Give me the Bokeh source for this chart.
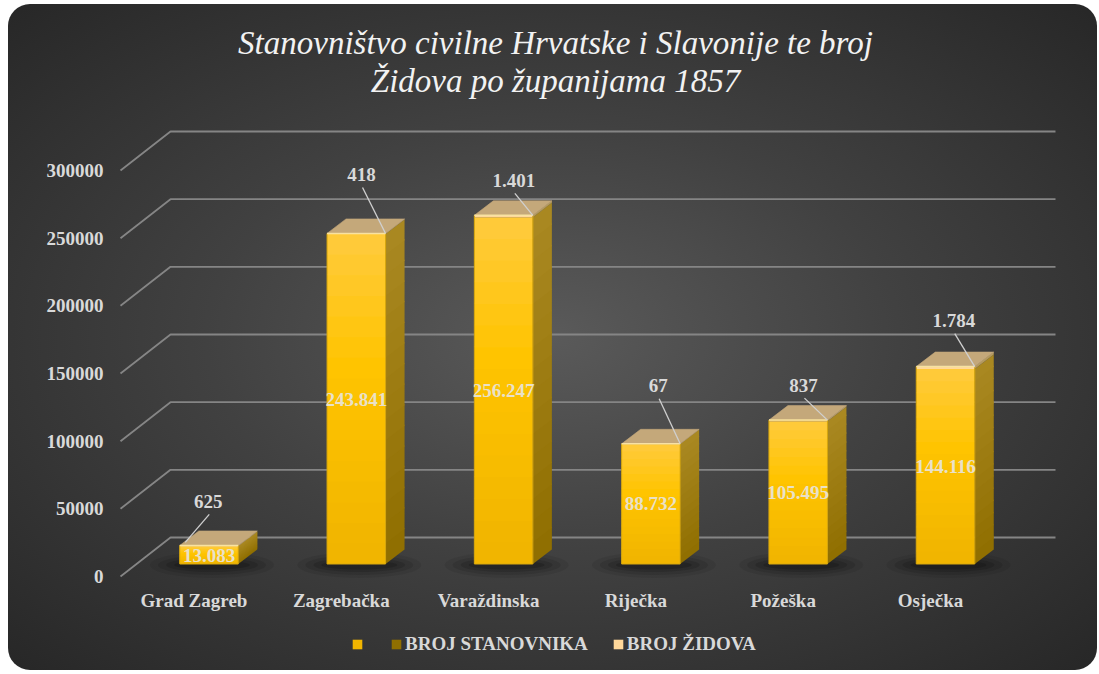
import numpy as np
from bokeh.plotting import figure
from bokeh.models import ColumnDataSource, FixedTicker, Range1d, Label, Legend, LegendItem
from bokeh.core.properties import value
from bokeh.embed import file_html
from bokeh.resources import INLINE

# ---------------- data ----------------
counties = ["Grad Zagreb", "Zagrebačka", "Varaždinska", "Riječka", "Požeška", "Osječka"]
population = [13083, 243841, 256247, 88732, 105495, 144116]   # BROJ STANOVNIKA
jews = [625, 418, 1401, 67, 837, 1784]                          # BROJ ŽIDOVA
y_ticks = [0, 50000, 100000, 150000, 200000, 250000, 300000]
y_tick_labels = ["0", "50000", "100000", "150000", "200000", "250000", "300000"]
title_lines = ["Stanovništvo civilne Hrvatske i Slavonije te broj", "Židova po županijama 1857"]
legend_labels = ["", "BROJ STANOVNIKA", "BROJ ŽIDOVA"]


def fmt(v):
    return f"{v:,}".replace(",", ".")


# ---------------- layout constants (page pixels) ----------------
W, H = 1089, 666
OX, OY = 8, 4                      # page position of the card
FL, FR, FT, FB = 115, 1065, OY + 2, OY + H - 2
X0, XSTEP = 193.5, 147.3          # front-plane x of first category, category spacing
Y0, YPX = 576.0, 406.0 / 300000   # front-plane y of value 0, px per value unit


def px2x(px):
    return (px - X0) / XSTEP


def py2y(py):
    return (Y0 - py) / YPX


def dxu(d):
    return d / XSTEP


def dyu(d):
    return d / YPX


FONT = "Liberation Serif"
LIGHT = "#d9d9d9"

p = figure(width=W, height=H, output_backend="svg", toolbar_location=None,
           x_range=Range1d(px2x(FL), px2x(FR)), y_range=Range1d(py2y(FB), py2y(FT)),
           min_border_left=FL - OX, min_border_right=OX + W - FR,
           min_border_top=FT - OY, min_border_bottom=OY + H - FB)
p.background_fill_alpha = 0
p.border_fill_alpha = 0
p.outline_line_color = None
p.xgrid.visible = False
p.ygrid.visible = False
p.styles = {
    "margin": f"{OY}px 0px 0px {OX}px",
    "border-radius": "22px",
    "overflow": "hidden",
    "background": "radial-gradient(ellipse at 50% 50%, #5a5a5a 0%, #414141 45%, #272727 100%)",
}

# ---------------- 3D grid (left wall diagonals + back wall lines) ----------------
gx = [px2x(120), px2x(170), px2x(1055)]
g_xs, g_ys = [], []
for v in y_ticks:
    g_xs.append(gx)
    g_ys.append([v, v + dyu(39), v + dyu(39)])
p.multi_line(xs=g_xs, ys=g_ys, line_color="#858585", line_width=1.8)

# ---------------- bars ----------------
n = len(counties)
idx = np.arange(n)
pop = np.array(population, dtype=float)
jw = np.array(jews, dtype=float)
xc = idx + dxu(15)
hw = dxu(29.25)
xl, xr = xc - hw, xc + hw
base = dyu(12.5)
top_pop = base + pop
top = top_pop + jw
ddx, ddy = dxu(19), dyu(14.5)

# soft shadows
for w, h, a in [(124, 26, 0.07), (108, 20, 0.10), (92, 14, 0.13), (76, 9, 0.16)]:
    p.ellipse(x=xc + dxu(3), y=base - dyu(1), width=dxu(w), height=dyu(h),
              fill_color="black", fill_alpha=a, line_color=None)


def mix(c1, c2, t):
    a = [int(c1[i:i + 2], 16) for i in (1, 3, 5)]
    b = [int(c2[i:i + 2], 16) for i in (1, 3, 5)]
    return "#" + "".join(f"{round(a[k] + (b[k] - a[k]) * t):02x}" for k in range(3))


NB = 16
fq = dict(left=[], right=[], bottom=[], top=[], color=[])
sp = dict(xs=[], ys=[], color=[])
for i in range(n):
    for k in range(NB):
        f0, f1 = k / NB, (k + 1) / NB
        b0 = base + pop[i] * f0
        b1 = base + pop[i] * f1
        b1x = b1 if k == NB - 1 else min(b1 + dyu(1.2), base + pop[i])
        t = (f0 + f1) / 2
        fc = mix("#f0b400", "#ffc400", t / 0.6) if t < 0.6 else mix("#ffc400", "#ffcb3e", (t - 0.6) / 0.4)
        fq["left"].append(xl[i]); fq["right"].append(xr[i])
        fq["bottom"].append(b0); fq["top"].append(b1x); fq["color"].append(fc)
        sp["xs"].append([xr[i], xr[i] + ddx, xr[i] + ddx, xr[i]])
        sp["ys"].append([b0, b0 + ddy, b1x + ddy, b1x])
        sp["color"].append(mix("#8f6e00", "#aa8922", t))
r_front = p.quad(left="left", right="right", bottom="bottom", top="top", source=ColumnDataSource(fq),
                 fill_color="color", line_color=None)
r_side = p.patches(xs="xs", ys="ys", source=ColumnDataSource(sp), fill_color="color", line_color=None)

# Jewish segment (stacked on top)
r_jew = p.quad(left=xl, right=xr, bottom=top_pop, top=top, fill_color="#ffd89a", line_color=None)
p.patches(xs=[[a, a + ddx, a + ddx, a] for a in xr],
          ys=[[b, b + ddy, c + ddy, c] for b, c in zip(top_pop, top)],
          fill_color="#b59a5c", line_color=None)
# top face
p.patches(xs=[[a, b, b + ddx, a + ddx] for a, b in zip(xl, xr)],
          ys=[[t, t, t + ddy, t + ddy] for t in top],
          fill_color="#c4a87a", line_color="#c4a87a", line_width=0.6)
# front outline + highlight
p.quad(left=xl, right=xr, bottom=base, top=top, fill_color=None, line_color="#d9a80e", line_width=1)
p.segment(x0=xl, y0=top, x1=xr, y1=top, line_color="#fff0c4", line_alpha=0.8, line_width=1.5)

# ---------------- data labels ----------------
p.text(x=xc, y=base + pop / 2, text=[fmt(v) for v in population],
       text_font=value(FONT), text_font_style="bold", text_font_size="19px",
       text_color="#e9e1c9", text_align="center", text_baseline="middle")

# Jewish labels with leader lines (offsets in px from the front-top-right corner)
lab_off = [(-30, -44), (-24, -59), (-19, -35), (-22, -58), (-24, -35), (-21, -46)]
lead_end = [(-53, -3), (0, 0), (0, 0), (0, 0), (0, 0), (0, 0)]
lx = np.array([xr[i] + dxu(lab_off[i][0]) for i in range(n)])
ly = np.array([top[i] - dyu(lab_off[i][1]) for i in range(n)])
p.segment(x0=lx + dxu(1), y0=ly - dyu(13),
          x1=[xr[i] + dxu(lead_end[i][0]) for i in range(n)],
          y1=[top[i] - dyu(lead_end[i][1]) for i in range(n)],
          line_color="#d0d0d0", line_width=1.3)
p.text(x=lx, y=ly, text=[fmt(v) for v in jews],
       text_font=value(FONT), text_font_style="bold", text_font_size="19px",
       text_color=LIGHT, text_align="center", text_baseline="middle")

# ---------------- axes ----------------
p.yaxis.ticker = FixedTicker(ticks=y_ticks)
p.yaxis.major_label_overrides = dict(zip(y_ticks, y_tick_labels))
p.xaxis.ticker = FixedTicker(ticks=list(range(n)))
p.xaxis.major_label_overrides = {i: c for i, c in enumerate(counties)}
p.xaxis.fixed_location = py2y(588)
for ax in (p.xaxis[0], p.yaxis[0]):
    ax.axis_line_color = None
    ax.major_tick_line_color = None
    ax.minor_tick_line_color = None
    ax.major_tick_out = 0
    ax.major_tick_in = 0
    ax.major_label_text_font = FONT
    ax.major_label_text_font_style = "bold"
    ax.major_label_text_font_size = "19px"
    ax.major_label_text_color = LIGHT
p.yaxis.major_label_standoff = 12
p.xaxis.major_label_standoff = 1

# ---------------- title ----------------
for line, base_py in zip(title_lines, [42, 80]):
    p.add_layout(Label(x=px2x(555), y=py2y(base_py), text=line, text_align="center",
                       text_baseline="alphabetic", text_font=FONT, text_font_style="italic",
                       text_font_size="33px", text_color="#f2f2f2"))

# ---------------- legend ----------------
items = [LegendItem(label=lab, renderers=[r])
         for lab, r in zip(legend_labels, [r_front, r_side, r_jew])]
legend = Legend(items=items, orientation="horizontal", location=(351 - FL, FB - 655),
                padding=0, margin=0, spacing=24, label_standoff=3, label_width=0,
                glyph_width=12, glyph_height=12,
                background_fill_alpha=0, border_line_alpha=0, label_text_font=FONT,
                label_text_font_style="bold", label_text_font_size="19px", label_text_color=LIGHT)
p.add_layout(legend)

open("out.html", "w").write(file_html(p, INLINE))
